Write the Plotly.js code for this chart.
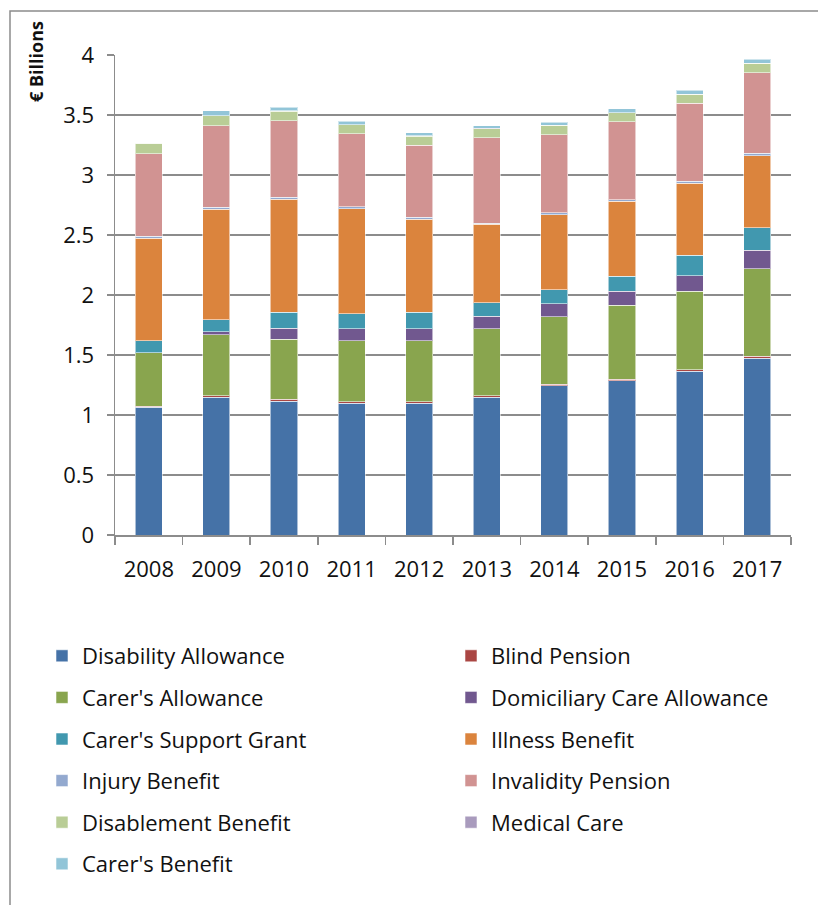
<!DOCTYPE html>
<html>
<head>
<meta charset="utf-8">
<script src="https://cdn.plot.ly/plotly-3.0.1.min.js"></script>
<style>html,body{margin:0;padding:0;background:#fff;}#chart{width:818px;height:905px;}</style>
</head>
<body>
<div id="chart"></div>
<script>
const years = ["2008","2009","2010","2011","2012","2013","2014","2015","2016","2017"];

const disabilityAllowance = [1.065, 1.147, 1.114, 1.097, 1.097, 1.147, 1.244, 1.286, 1.364, 1.475];
const blindPension        = [0.010, 0.014, 0.017, 0.014, 0.014, 0.014, 0.014, 0.014, 0.014, 0.014];
const carersAllowance     = [0.445, 0.506, 0.502, 0.506, 0.506, 0.556, 0.559, 0.614, 0.653, 0.728];
const domiciliaryCare     = [0.000, 0.027, 0.092, 0.102, 0.102, 0.105, 0.111, 0.117, 0.130, 0.155];
const carersSupportGrant  = [0.100, 0.100, 0.131, 0.125, 0.137, 0.114, 0.116, 0.127, 0.172, 0.189];
const illnessBenefit      = [0.852, 0.920, 0.941, 0.875, 0.775, 0.653, 0.625, 0.623, 0.598, 0.600];
const injuryBenefit       = [0.018, 0.016, 0.017, 0.015, 0.016, 0.011, 0.017, 0.013, 0.016, 0.020];
const invalidityPension   = [0.688, 0.680, 0.639, 0.608, 0.600, 0.711, 0.650, 0.650, 0.650, 0.672];
const disablementBenefit  = [0.086, 0.083, 0.080, 0.075, 0.078, 0.075, 0.078, 0.073, 0.075, 0.078];
const medicalCare         = [0.002, 0.002, 0.002, 0.002, 0.002, 0.002, 0.002, 0.002, 0.002, 0.002];
const carersBenefit       = [0.000, 0.040, 0.028, 0.028, 0.025, 0.022, 0.022, 0.033, 0.031, 0.033];

const seriesNames = ["Disability Allowance","Blind Pension","Carer's Allowance","Domiciliary Care Allowance",
  "Carer's Support Grant","Illness Benefit","Injury Benefit","Invalidity Pension","Disablement Benefit",
  "Medical Care","Carer's Benefit"];
const seriesValues = [disabilityAllowance, blindPension, carersAllowance, domiciliaryCare, carersSupportGrant,
  illnessBenefit, injuryBenefit, invalidityPension, disablementBenefit, medicalCare, carersBenefit];
const seriesColors = ["#4572A7","#AA4643","#89A54E","#71588F","#4198AF","#DB843D","#93A9CF","#D19392",
  "#B9CD96","#A99BBD","#92C5D8"];

const FONT = "'Open Sans', Lato, sans-serif";

const traces = seriesNames.map((name, i) => ({
  type: "bar",
  name: name,
  x: years,
  y: seriesValues[i],
  marker: {color: seriesColors[i], line: {color: "rgba(255,255,255,0.55)", width: 1}},
  legend: (i % 2 === 0) ? "legend" : "legend2",
  legendgroup: "g" + i,
  hoverinfo: "x+y+name"
}));

const W = 818, H = 905;
const L = 115, R = 27, T = 55, B = 370;
const pw = W - L - R, ph = H - T - B;
const px = v => (v - L) / pw;
const py = v => (H - B - v) / ph;

const legendCommon = {
  orientation: "v",
  traceorder: "grouped",
  tracegroupgap: 10,
  yanchor: "top",
  xanchor: "left",
  bgcolor: "rgba(0,0,0,0)",
  font: {family: FONT, size: 22, color: "#111"},
  itemclick: false
};

const layout = {
  width: W, height: H,
  margin: {l: L, r: R, t: T, b: B},
  paper_bgcolor: "#fff",
  plot_bgcolor: "#fff",
  barmode: "stack",
  bargap: 0.6,
  font: {family: FONT, size: 22, color: "#111"},
  showlegend: true,
  legend: Object.assign({}, legendCommon, {x: px(42), y: py(635)}),
  legend2: Object.assign({}, legendCommon, {x: px(451), y: py(635)}),
  xaxis: {
    type: "category",
    showline: true, linecolor: "#8c8c8c", linewidth: 1.5,
    ticks: "outside", tickson: "boundaries", ticklen: 8, tickcolor: "#8c8c8c", tickwidth: 1.5,
    ticklabelstandoff: 14,
    showgrid: false,
    tickfont: {family: FONT, size: 22, color: "#111"}
  },
  yaxis: {
    range: [0, 4],
    tickvals: [0, 0.5, 1, 1.5, 2, 2.5, 3, 3.5, 4],
    ticktext: ["0","0.5","1","1.5","2","2.5","3","3.5","4"],
    showline: true, linecolor: "#8c8c8c", linewidth: 1.5,
    ticks: "outside", ticklen: 7, tickcolor: "#8c8c8c", tickwidth: 1.5,
    ticklabelstandoff: 8,
    showgrid: true, gridcolor: "#8c8c8c", gridwidth: 1.5,
    zeroline: false,
    tickfont: {family: FONT, size: 22, color: "#111"}
  },
  annotations: [{
    xref: "paper", yref: "paper",
    x: px(36), y: py(62),
    xanchor: "center", yanchor: "middle",
    textangle: -90,
    text: "<b>€ Billions</b>",
    showarrow: false,
    font: {family: FONT, size: 18, color: "#111"}
  }],
  shapes: [{
    type: "rect", xref: "paper", yref: "paper",
    x0: px(10), x1: px(830), y0: py(920), y1: py(11),
    line: {color: "#8c8c8c", width: 1.5},
    fillcolor: "rgba(0,0,0,0)",
    layer: "below"
  }]
};

Plotly.newPlot("chart", traces, layout, {displayModeBar: false, staticPlot: true});
</script>
</body>
</html>
